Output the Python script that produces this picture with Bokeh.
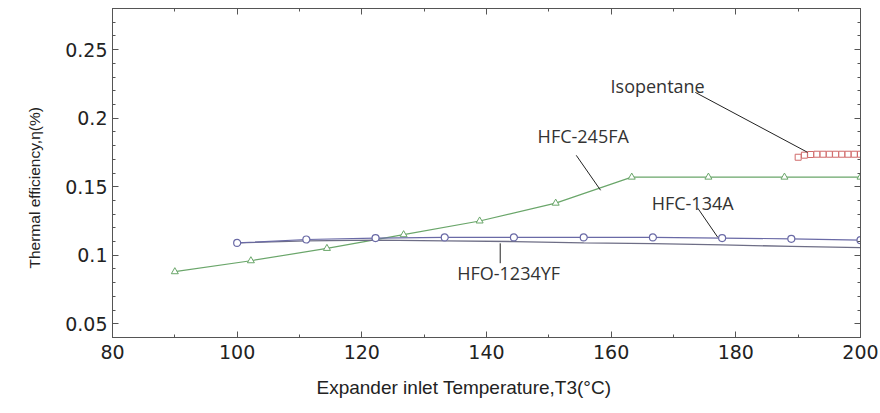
from bokeh.plotting import figure
from bokeh.models import Range1d, FixedTicker, LinearAxis, Title
from bokeh.core.properties import value
from bokeh.embed import file_html
from bokeh.resources import INLINE

# ---- data ----
t_245fa = [90, 102.2, 114.4, 126.7, 138.9, 151.1, 163.3, 175.6, 187.8, 200]
eta_245fa = [0.088, 0.096, 0.105, 0.115, 0.125, 0.138, 0.157, 0.157, 0.157, 0.157]

t_134a = [100, 111.1, 122.2, 133.3, 144.4, 155.6, 166.7, 177.8, 188.9, 200]
eta_134a = [0.109, 0.1115, 0.1125, 0.113, 0.113, 0.113, 0.113, 0.1125, 0.112, 0.111]

t_1234yf = [100, 111.1, 122.2, 133.3, 144.4, 155.6, 166.7, 177.8, 188.9, 200]
eta_1234yf = [0.109, 0.1105, 0.111, 0.1105, 0.110, 0.109, 0.1085, 0.1075, 0.1065, 0.1055]

t_iso = [190, 191, 192, 193, 194, 195, 196, 197, 198, 199, 200]
eta_iso = [0.1715, 0.173, 0.1735, 0.1737, 0.1737, 0.1737, 0.1737, 0.1737, 0.1737, 0.1737, 0.1737]

x_ticks = [80, 100, 120, 140, 160, 180, 200]
x_minor = [90, 110, 130, 150, 170, 190]
y_ticks = [0.05, 0.1, 0.15, 0.2, 0.25]
y_tick_labels = ["0.05", "0.1", "0.15", "0.2", "0.25"]
y_minor = [0.04, 0.06, 0.07, 0.08, 0.09, 0.11, 0.12, 0.13, 0.14, 0.16, 0.17, 0.18,
           0.19, 0.21, 0.22, 0.23, 0.24, 0.26, 0.27, 0.28]

x_title = "Expander inlet Temperature,T3(°C)"
y_title = "Thermal efficiency,η(%)"

# annotation labels (text, x, y) and leader lines (x0, y0, x1, y1)
ann_text = ["Isopentane", "HFC-245FA", "HFC-134A", "HFO-1234YF"]
ann_x = [159.9, 148.2, 166.5, 135.3]
ann_y = [0.2232, 0.1867, 0.1379, 0.0869]
lead_x0 = [173.5, 154.4, 173.9, 142.2]
lead_y0 = [0.2188, 0.1729, 0.1343, 0.1087]
lead_x1 = [191.5, 158.3, 177.1, 142.2]
lead_y1 = [0.1751, 0.1474, 0.1131, 0.0942]

AX = "#555555"
GREEN = "#6aa66a"
BLUE = "#6a6aa6"
GREY = "#6e6e86"
RED = "#d06a6a"
TXT = "#222222"

p = figure(width=880, height=413, output_backend="svg", toolbar_location=None,
           x_range=Range1d(80, 200), y_range=Range1d(0.04, 0.28),
           min_border_left=112, min_border_right=20, min_border_top=8,
           min_border_bottom=76)
p.outline_line_color = AX
p.xgrid.visible = False
p.ygrid.visible = False
p.background_fill_color = "white"
p.border_fill_color = "white"

TICK_FONT = "DejaVu Sans"

xa = p.xaxis[0]
xa.ticker = FixedTicker(ticks=x_ticks, minor_ticks=x_minor)
ya = p.yaxis[0]
ya.ticker = FixedTicker(ticks=y_ticks, minor_ticks=y_minor)
ya.major_label_overrides = {t: s for t, s in zip(y_ticks, y_tick_labels)}

for ax in (xa, ya):
    ax.axis_line_color = AX
    ax.major_tick_line_color = AX
    ax.minor_tick_line_color = AX
    ax.major_tick_in = 6
    ax.major_tick_out = 0
    ax.minor_tick_in = 3
    ax.minor_tick_out = 0
    ax.major_label_text_font = TICK_FONT
    ax.major_label_text_font_size = "19px"
    ax.major_label_text_color = TXT

xa.major_label_standoff = 7
ya.major_label_standoff = 5

# axis titles, placed off-centre as in the reference
xt = Title(text=x_title, align="left", offset=204,
           text_font="Liberation Sans", text_font_size="19px",
           text_font_style="normal", text_color=TXT, standoff=27)
p.add_layout(xt, "below")
yt = Title(text=y_title, align="left", offset=69,
           text_font="Liberation Sans", text_font_size="15.5px",
           text_font_style="normal", text_color=TXT, standoff=40)
p.add_layout(yt, "left")

# top and right axes: inward ticks only
ra = LinearAxis(ticker=FixedTicker(ticks=y_ticks, minor_ticks=y_minor))
ra.major_label_overrides = {t: "" for t in y_ticks}
ta = LinearAxis(ticker=FixedTicker(ticks=x_ticks, minor_ticks=x_minor))
ta.major_label_overrides = {t: "" for t in x_ticks}
for ax in (ra, ta):
    ax.axis_line_color = AX
    ax.major_tick_line_color = AX
    ax.minor_tick_line_color = AX
    ax.major_tick_in = 6
    ax.major_tick_out = 0
    ax.minor_tick_in = 3
    ax.minor_tick_out = 0
    ax.major_label_standoff = 0
p.add_layout(ra, "right")
p.add_layout(ta, "above")

# series
p.line(t_245fa, eta_245fa, line_color=GREEN, line_width=1.2)
p.scatter(t_245fa, eta_245fa, marker="triangle", size=7, line_color=GREEN,
          fill_color="white", line_width=1)

p.line(t_1234yf, eta_1234yf, line_color=GREY, line_width=1.3)

p.line(t_134a, eta_134a, line_color=BLUE, line_width=1.2)
p.scatter(t_134a, eta_134a, marker="circle", size=7, line_color=BLUE,
          fill_color="white", line_width=1.2)

p.line(t_iso, eta_iso, line_color=RED, line_width=1)
p.scatter(t_iso, eta_iso, marker="square", size=6, line_color=RED,
          fill_color="white", line_width=1)

# annotations
p.segment(x0=lead_x0, y0=lead_y0, x1=lead_x1, y1=lead_y1, line_color=TXT, line_width=1)
p.text(x=ann_x, y=ann_y, text=ann_text, text_font=value("Open Sans"),
       text_font_size="18px", text_color="#333333", text_align="left",
       text_baseline="middle")

open("out.html", "w").write(file_html(p, INLINE))
